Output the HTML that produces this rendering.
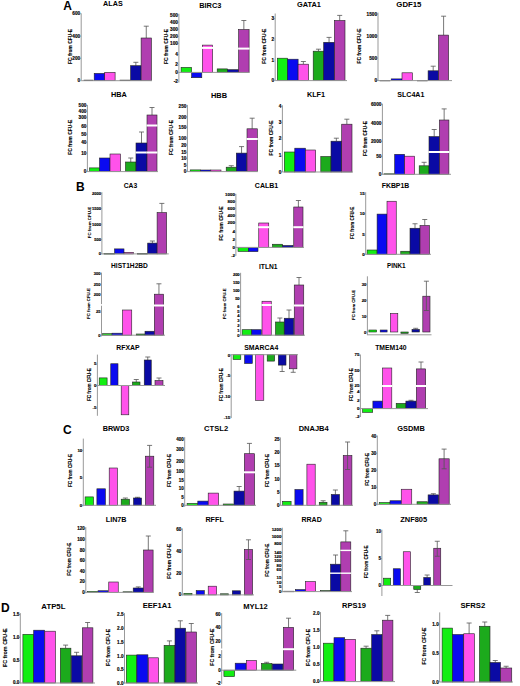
<!DOCTYPE html><html><head><meta charset="utf-8"><title>Figure</title><style>html,body{margin:0;padding:0;background:#fff;}svg{display:block;}text{font-family:"Liberation Sans",sans-serif;}.t{font-weight:bold;font-size:7.5px;fill:#000;}.k{font-weight:bold;font-size:4.9px;fill:#000;stroke:#000;stroke-width:0.15px;}.y{font-weight:bold;font-size:5px;fill:#000;stroke:#000;stroke-width:0.12px;}.p{font-weight:bold;font-size:12px;fill:#000;}</style></head><body>
<svg width="520" height="686" viewBox="0 0 520 686">
<rect width="520" height="686" fill="#fff"/>
<text class="p" x="63.2" y="10">A</text>
<text class="p" x="76" y="191.2">B</text>
<text class="p" x="63" y="433.5">C</text>
<text class="p" x="0.9" y="611.5">D</text>
<g><text class="t" style="font-size:7.2px" x="112.9" y="6.3" text-anchor="middle">ALAS</text><rect x="84" y="80.1" width="9" height="0.6" fill="#12ee12" stroke="#222" stroke-width="0.6"/><rect x="94.2" y="73.4" width="10.5" height="7.3" fill="#0a0af0" stroke="#222" stroke-width="0.6"/><rect x="104.7" y="72.4" width="10.4" height="8.3" fill="#ff52ea" stroke="#222" stroke-width="0.6"/><rect x="120" y="80.1" width="10" height="0.6" fill="#1caa1c" stroke="#222" stroke-width="0.6"/><path d="M135.85 65.7V62.3M133.35 62.3H138.35" stroke="#555" stroke-width="0.8" fill="none"/><rect x="130.6" y="65.7" width="10.5" height="15" fill="#0a0aa4" stroke="#222" stroke-width="0.6"/><path d="M146.25 38V26.2M143.75 26.2H148.75" stroke="#555" stroke-width="0.8" fill="none"/><rect x="141.1" y="38" width="10.3" height="42.7" fill="#b03eb0" stroke="#222" stroke-width="0.6"/><path d="M81.2 13.4V80.7" stroke="#999" stroke-width="1" fill="none"/><path d="M81.2 80.7H152" stroke="#999" stroke-width="1" fill="none"/><path d="M79.9 13.7H81.2" stroke="#999" stroke-width="0.6"/><text class="k" style="font-size:4.7px" x="80.2" y="15.39" text-anchor="end">600</text><path d="M79.9 36.1H81.2" stroke="#999" stroke-width="0.6"/><text class="k" style="font-size:4.7px" x="80.2" y="37.79" text-anchor="end">400</text><path d="M79.9 58.4H81.2" stroke="#999" stroke-width="0.6"/><text class="k" style="font-size:4.7px" x="80.2" y="60.09" text-anchor="end">200</text><path d="M79.9 80.7H81.2" stroke="#999" stroke-width="0.6"/><text class="k" style="font-size:4.7px" x="80.2" y="82.39" text-anchor="end">0</text><text class="y" style="font-size:4.9px" transform="translate(71.76 46.4) rotate(-90)" text-anchor="middle">FC from CFU-E</text></g>
<g><text class="t" style="font-size:7.4px" x="210.3" y="7.6" text-anchor="middle">BIRC3</text><rect x="181.1" y="67.4" width="10.5" height="5" fill="#12ee12" stroke="#222" stroke-width="0.6"/><rect x="191.6" y="72.4" width="10.2" height="5.3" fill="#0a0af0" stroke="#222" stroke-width="0.6"/><rect x="202.3" y="45.1" width="10.3" height="27.3" fill="#ff52ea" stroke="#222" stroke-width="0.6"/><rect x="201.8" y="46.9" width="11.3" height="2" fill="#fff"/><rect x="217.2" y="68.9" width="10.3" height="3.5" fill="#1caa1c" stroke="#222" stroke-width="0.6"/><rect x="227.5" y="69.7" width="11.1" height="2.7" fill="#0a0aa4" stroke="#222" stroke-width="0.6"/><path d="M243.85 29.5V20.5M241.35 20.5H246.35" stroke="#555" stroke-width="0.8" fill="none"/><rect x="238.6" y="29.5" width="10.5" height="42.9" fill="#b03eb0" stroke="#222" stroke-width="0.6"/><rect x="238.1" y="47.6" width="11.5" height="2" fill="#fff"/><path d="M178.9 13.7V82.5" stroke="#999" stroke-width="1" fill="none"/><path d="M178.9 72.4H249.5" stroke="#999" stroke-width="1" fill="none"/><path d="M177.6 14.9H178.9" stroke="#999" stroke-width="0.6"/><text class="k" style="font-size:4.7px" x="177.9" y="16.59" text-anchor="end">500</text><path d="M177.6 22.3H178.9" stroke="#999" stroke-width="0.6"/><text class="k" style="font-size:4.7px" x="177.9" y="23.99" text-anchor="end">400</text><path d="M177.6 29.3H178.9" stroke="#999" stroke-width="0.6"/><text class="k" style="font-size:4.7px" x="177.9" y="30.99" text-anchor="end">300</text><path d="M177.6 36.5H178.9" stroke="#999" stroke-width="0.6"/><text class="k" style="font-size:4.7px" x="177.9" y="38.19" text-anchor="end">200</text><path d="M177.6 43.5H178.9" stroke="#999" stroke-width="0.6"/><text class="k" style="font-size:4.7px" x="177.9" y="45.19" text-anchor="end">100</text><path d="M177.6 54.6H178.9" stroke="#999" stroke-width="0.6"/><text class="k" style="font-size:4.7px" x="177.9" y="56.29" text-anchor="end">4</text><path d="M177.6 64.5H178.9" stroke="#999" stroke-width="0.6"/><text class="k" style="font-size:4.7px" x="177.9" y="66.19" text-anchor="end">2</text><path d="M177.6 72.4H178.9" stroke="#999" stroke-width="0.6"/><text class="k" style="font-size:4.7px" x="177.9" y="74.09" text-anchor="end">0</text><path d="M177.6 81.4H178.9" stroke="#999" stroke-width="0.6"/><text class="k" style="font-size:4.7px" x="177.9" y="83.09" text-anchor="end">-2</text><text class="y" style="font-size:4.9px" transform="translate(168.26 46.4) rotate(-90)" text-anchor="middle">FC from CFU-E</text></g>
<g><text class="t" style="font-size:7.4px" x="308.9" y="7.3" text-anchor="middle">GATA1</text><rect x="277.3" y="58.2" width="10.2" height="22.4" fill="#12ee12" stroke="#222" stroke-width="0.6"/><rect x="287.5" y="59.2" width="10.6" height="21.4" fill="#0a0af0" stroke="#222" stroke-width="0.6"/><path d="M303.35 64.2V61.5M300.85 61.5H305.85" stroke="#555" stroke-width="0.8" fill="none"/><rect x="298.1" y="64.2" width="10.5" height="16.4" fill="#ff52ea" stroke="#222" stroke-width="0.6"/><path d="M318.45 51.2V49.2M315.95 49.2H320.95" stroke="#555" stroke-width="0.8" fill="none"/><rect x="313.2" y="51.2" width="10.5" height="29.4" fill="#1caa1c" stroke="#222" stroke-width="0.6"/><path d="M329.05 42.3V37.4M326.55 37.4H331.55" stroke="#555" stroke-width="0.8" fill="none"/><rect x="323.7" y="42.3" width="10.7" height="38.3" fill="#0a0aa4" stroke="#222" stroke-width="0.6"/><path d="M339.7 20.5V15.4M337.2 15.4H342.2" stroke="#555" stroke-width="0.8" fill="none"/><rect x="334.4" y="20.5" width="10.6" height="60.1" fill="#b03eb0" stroke="#222" stroke-width="0.6"/><path d="M275.2 13.5V80.6" stroke="#999" stroke-width="1" fill="none"/><path d="M275.2 80.6H347" stroke="#999" stroke-width="1" fill="none"/><path d="M273.9 18.4H275.2" stroke="#999" stroke-width="0.6"/><text class="k" style="font-size:4.7px" x="274.2" y="20.09" text-anchor="end">3</text><path d="M273.9 39.2H275.2" stroke="#999" stroke-width="0.6"/><text class="k" style="font-size:4.7px" x="274.2" y="40.89" text-anchor="end">2</text><path d="M273.9 60.1H275.2" stroke="#999" stroke-width="0.6"/><text class="k" style="font-size:4.7px" x="274.2" y="61.79" text-anchor="end">1</text><path d="M273.9 80.6H275.2" stroke="#999" stroke-width="0.6"/><text class="k" style="font-size:4.7px" x="274.2" y="82.29" text-anchor="end">0</text><text class="y" style="font-size:4.9px" transform="translate(265.76 46.2) rotate(-90)" text-anchor="middle">FC from CFU-E</text></g>
<g><text class="t" style="font-size:7.8px" x="408.9" y="7.3" text-anchor="middle">GDF15</text><rect x="380" y="80.3" width="10" height="0.6" fill="#12ee12" stroke="#222" stroke-width="0.6"/><rect x="391.2" y="78.9" width="10.8" height="1.7" fill="#0a0af0" stroke="#222" stroke-width="0.6"/><rect x="402" y="72.8" width="10.4" height="7.8" fill="#ff52ea" stroke="#222" stroke-width="0.6"/><rect x="417.5" y="80.3" width="10" height="0.6" fill="#1caa1c" stroke="#222" stroke-width="0.6"/><path d="M433.2 70.8V66.2M430.7 66.2H435.7" stroke="#555" stroke-width="0.8" fill="none"/><rect x="428.1" y="70.8" width="10.2" height="9.8" fill="#0a0aa4" stroke="#222" stroke-width="0.6"/><path d="M443.6 35.1V16.2M441.1 16.2H446.1" stroke="#555" stroke-width="0.8" fill="none"/><rect x="438.6" y="35.1" width="10" height="45.5" fill="#b03eb0" stroke="#222" stroke-width="0.6"/><path d="M378 12.6V81" stroke="#999" stroke-width="1" fill="none"/><path d="M378 80.6H452" stroke="#999" stroke-width="1" fill="none"/><path d="M376.7 14.1H378" stroke="#999" stroke-width="0.6"/><text class="k" style="font-size:4.7px" x="377" y="15.79" text-anchor="end">1500</text><path d="M376.7 35.9H378" stroke="#999" stroke-width="0.6"/><text class="k" style="font-size:4.7px" x="377" y="37.59" text-anchor="end">1000</text><path d="M376.7 58H378" stroke="#999" stroke-width="0.6"/><text class="k" style="font-size:4.7px" x="377" y="59.69" text-anchor="end">500</text><path d="M376.7 80.6H378" stroke="#999" stroke-width="0.6"/><text class="k" style="font-size:4.7px" x="377" y="82.29" text-anchor="end">0</text><text class="y" style="font-size:4.9px" transform="translate(360.96 46) rotate(-90)" text-anchor="middle">FC from CFU-E</text></g>
<g><text class="t" style="font-size:7.3px" x="118.9" y="97" text-anchor="middle">HBA</text><rect x="89.6" y="167.9" width="9.9" height="3.7" fill="#12ee12" stroke="#222" stroke-width="0.6"/><rect x="99.5" y="158" width="10.5" height="13.6" fill="#0a0af0" stroke="#222" stroke-width="0.6"/><rect x="110" y="154" width="10.5" height="17.6" fill="#ff52ea" stroke="#222" stroke-width="0.6"/><path d="M130.75 162V158M128.25 158H133.25" stroke="#555" stroke-width="0.8" fill="none"/><rect x="125.5" y="162" width="10.5" height="9.6" fill="#1caa1c" stroke="#222" stroke-width="0.6"/><path d="M141.5 143V132M139 132H144" stroke="#555" stroke-width="0.8" fill="none"/><rect x="136" y="143" width="11" height="28.6" fill="#0a0aa4" stroke="#222" stroke-width="0.6"/><rect x="135.5" y="151.5" width="12" height="2" fill="#fff"/><path d="M152 115V107.5M149.5 107.5H154.5" stroke="#555" stroke-width="0.8" fill="none"/><rect x="147" y="115" width="10" height="56.6" fill="#b03eb0" stroke="#222" stroke-width="0.6"/><rect x="146.5" y="124.5" width="11" height="2" fill="#fff"/><rect x="146.5" y="151.5" width="11" height="2" fill="#fff"/><path d="M87.4 104.9V172" stroke="#999" stroke-width="1" fill="none"/><path d="M87.4 171.6H158" stroke="#999" stroke-width="1" fill="none"/><path d="M86.1 105.5H87.4" stroke="#999" stroke-width="0.6"/><text class="k" style="font-size:4.7px" x="86.4" y="107.19" text-anchor="end">500</text><path d="M86.1 111.3H87.4" stroke="#999" stroke-width="0.6"/><text class="k" style="font-size:4.7px" x="86.4" y="112.99" text-anchor="end">400</text><path d="M86.1 117.7H87.4" stroke="#999" stroke-width="0.6"/><text class="k" style="font-size:4.7px" x="86.4" y="119.39" text-anchor="end">300</text><path d="M86.1 126.3H87.4" stroke="#999" stroke-width="0.6"/><text class="k" style="font-size:4.7px" x="86.4" y="127.99" text-anchor="end">60</text><path d="M86.1 134.4H87.4" stroke="#999" stroke-width="0.6"/><text class="k" style="font-size:4.7px" x="86.4" y="136.09" text-anchor="end">50</text><path d="M86.1 142.6H87.4" stroke="#999" stroke-width="0.6"/><text class="k" style="font-size:4.7px" x="86.4" y="144.29" text-anchor="end">40</text><path d="M86.1 153.1H87.4" stroke="#999" stroke-width="0.6"/><text class="k" style="font-size:4.7px" x="86.4" y="154.79" text-anchor="end">10</text><path d="M86.1 171.6H87.4" stroke="#999" stroke-width="0.6"/><text class="k" style="font-size:4.7px" x="86.4" y="173.29" text-anchor="end">0</text><text class="y" style="font-size:4.9px" transform="translate(72.46 137.3) rotate(-90)" text-anchor="middle">FC from CFU-E</text></g>
<g><text class="t" style="font-size:7.45px" x="219" y="97.6" text-anchor="middle">HBB</text><rect x="190.2" y="169.9" width="10.3" height="1.7" fill="#12ee12" stroke="#222" stroke-width="0.6"/><rect x="200.5" y="170" width="10.3" height="1.6" fill="#0a0af0" stroke="#222" stroke-width="0.6"/><rect x="210.8" y="170" width="10.2" height="1.6" fill="#ff52ea" stroke="#222" stroke-width="0.6"/><path d="M231.25 167.2V165.7M228.75 165.7H233.75" stroke="#555" stroke-width="0.8" fill="none"/><rect x="226.2" y="167.2" width="10.1" height="4.4" fill="#1caa1c" stroke="#222" stroke-width="0.6"/><path d="M241.55 153.1V146.6M239.05 146.6H244.05" stroke="#555" stroke-width="0.8" fill="none"/><rect x="236.3" y="153.1" width="10.5" height="18.5" fill="#0a0aa4" stroke="#222" stroke-width="0.6"/><path d="M252.15 128.8V118.2M249.65 118.2H254.65" stroke="#555" stroke-width="0.8" fill="none"/><rect x="247" y="128.8" width="10.3" height="42.8" fill="#b03eb0" stroke="#222" stroke-width="0.6"/><rect x="246.5" y="138" width="11.3" height="2" fill="#fff"/><path d="M187.4 104.9V172" stroke="#999" stroke-width="1" fill="none"/><path d="M187.4 171.6H258" stroke="#999" stroke-width="1" fill="none"/><path d="M186.1 106.1H187.4" stroke="#999" stroke-width="0.6"/><text class="k" style="font-size:4.7px" x="186.4" y="107.79" text-anchor="end">250</text><path d="M186.1 116.9H187.4" stroke="#999" stroke-width="0.6"/><text class="k" style="font-size:4.7px" x="186.4" y="118.59" text-anchor="end">200</text><path d="M186.1 127.4H187.4" stroke="#999" stroke-width="0.6"/><text class="k" style="font-size:4.7px" x="186.4" y="129.09" text-anchor="end">150</text><path d="M186.1 138.1H187.4" stroke="#999" stroke-width="0.6"/><text class="k" style="font-size:4.7px" x="186.4" y="139.79" text-anchor="end">100</text><path d="M186.1 144.9H187.4" stroke="#999" stroke-width="0.6"/><text class="k" style="font-size:4.7px" x="186.4" y="146.59" text-anchor="end">20</text><path d="M186.1 151.9H187.4" stroke="#999" stroke-width="0.6"/><text class="k" style="font-size:4.7px" x="186.4" y="153.59" text-anchor="end">15</text><path d="M186.1 158.6H187.4" stroke="#999" stroke-width="0.6"/><text class="k" style="font-size:4.7px" x="186.4" y="160.29" text-anchor="end">10</text><path d="M186.1 165H187.4" stroke="#999" stroke-width="0.6"/><text class="k" style="font-size:4.7px" x="186.4" y="166.69" text-anchor="end">5</text><path d="M186.1 171.6H187.4" stroke="#999" stroke-width="0.6"/><text class="k" style="font-size:4.7px" x="186.4" y="173.29" text-anchor="end">0</text><text class="y" style="font-size:4.9px" transform="translate(172.76 137.5) rotate(-90)" text-anchor="middle">FC from CFU-E</text></g>
<g><text class="t" style="font-size:7.3px" x="316" y="97.3" text-anchor="middle">KLF1</text><rect x="284.3" y="152" width="10.5" height="20" fill="#12ee12" stroke="#222" stroke-width="0.6"/><rect x="294.8" y="148.2" width="10.6" height="23.8" fill="#0a0af0" stroke="#222" stroke-width="0.6"/><rect x="305.4" y="150" width="10.3" height="22" fill="#ff52ea" stroke="#222" stroke-width="0.6"/><rect x="320.8" y="156.5" width="10.2" height="15.5" fill="#1caa1c" stroke="#222" stroke-width="0.6"/><path d="M336.35 141.2V138.2M333.85 138.2H338.85" stroke="#555" stroke-width="0.8" fill="none"/><rect x="331" y="141.2" width="10.7" height="30.8" fill="#0a0aa4" stroke="#222" stroke-width="0.6"/><path d="M346.85 124.2V119.2M344.35 119.2H349.35" stroke="#555" stroke-width="0.8" fill="none"/><rect x="341.7" y="124.2" width="10.3" height="47.8" fill="#b03eb0" stroke="#222" stroke-width="0.6"/><path d="M282.4 105.3V172" stroke="#999" stroke-width="1" fill="none"/><path d="M282.4 172H353" stroke="#999" stroke-width="1" fill="none"/><path d="M281.1 106.1H282.4" stroke="#999" stroke-width="0.6"/><text class="k" style="font-size:4.7px" x="281.4" y="107.79" text-anchor="end">4</text><path d="M281.1 122.1H282.4" stroke="#999" stroke-width="0.6"/><text class="k" style="font-size:4.7px" x="281.4" y="123.79" text-anchor="end">3</text><path d="M281.1 138.7H282.4" stroke="#999" stroke-width="0.6"/><text class="k" style="font-size:4.7px" x="281.4" y="140.39" text-anchor="end">2</text><path d="M281.1 155.4H282.4" stroke="#999" stroke-width="0.6"/><text class="k" style="font-size:4.7px" x="281.4" y="157.09" text-anchor="end">1</text><path d="M281.1 172H282.4" stroke="#999" stroke-width="0.6"/><text class="k" style="font-size:4.7px" x="281.4" y="173.69" text-anchor="end">0</text><text class="y" style="font-size:4.9px" transform="translate(273.06 137.9) rotate(-90)" text-anchor="middle">FC from CFU-E</text></g>
<g><text class="t" style="font-size:7.1px" x="410.8" y="97" text-anchor="middle">SLC4A1</text><rect x="384" y="173.8" width="10.5" height="0.6" fill="#12ee12" stroke="#222" stroke-width="0.6"/><rect x="394.7" y="154.3" width="9.9" height="20" fill="#0a0af0" stroke="#222" stroke-width="0.6"/><rect x="404.6" y="156.2" width="10" height="18.1" fill="#ff52ea" stroke="#222" stroke-width="0.6"/><path d="M424.1 165.8V162.3M421.6 162.3H426.6" stroke="#555" stroke-width="0.8" fill="none"/><rect x="419.2" y="165.8" width="9.8" height="8.5" fill="#1caa1c" stroke="#222" stroke-width="0.6"/><path d="M434.2 136.6V129.5M431.7 129.5H436.7" stroke="#555" stroke-width="0.8" fill="none"/><rect x="429" y="136.6" width="10.4" height="37.7" fill="#0a0aa4" stroke="#222" stroke-width="0.6"/><rect x="428.5" y="151" width="11.4" height="2" fill="#fff"/><path d="M444.15 120V108.9M441.65 108.9H446.65" stroke="#555" stroke-width="0.8" fill="none"/><rect x="439.4" y="120" width="9.5" height="54.3" fill="#b03eb0" stroke="#222" stroke-width="0.6"/><rect x="438.9" y="151" width="10.5" height="2" fill="#fff"/><path d="M382.4 103.7V174.8" stroke="#999" stroke-width="1" fill="none"/><path d="M382.4 174.3H451" stroke="#999" stroke-width="1" fill="none"/><path d="M381.1 104.3H382.4" stroke="#999" stroke-width="0.6"/><text class="k" style="font-size:4.7px" x="381.4" y="105.99" text-anchor="end">6000</text><path d="M381.1 123H382.4" stroke="#999" stroke-width="0.6"/><text class="k" style="font-size:4.7px" x="381.4" y="124.69" text-anchor="end">4000</text><path d="M381.1 141.6H382.4" stroke="#999" stroke-width="0.6"/><text class="k" style="font-size:4.7px" x="381.4" y="143.29" text-anchor="end">2000</text><path d="M381.1 156.6H382.4" stroke="#999" stroke-width="0.6"/><text class="k" style="font-size:4.7px" x="381.4" y="158.29" text-anchor="end">50</text><path d="M381.1 174.2H382.4" stroke="#999" stroke-width="0.6"/><text class="k" style="font-size:4.7px" x="381.4" y="175.89" text-anchor="end">0</text><text class="y" style="font-size:4.9px" transform="translate(367.36 138.4) rotate(-90)" text-anchor="middle">FC from CFU-E</text></g>
<g><text class="t" style="font-size:6.75px" x="130.4" y="187.6" text-anchor="middle">CA3</text><rect x="104" y="253.5" width="10.4" height="0.6" fill="#12ee12" stroke="#222" stroke-width="0.6"/><rect x="114.6" y="248.9" width="9.4" height="5" fill="#0a0af0" stroke="#222" stroke-width="0.6"/><rect x="124" y="252.3" width="9.5" height="1.6" fill="#ff52ea" stroke="#222" stroke-width="0.6"/><rect x="137.5" y="253.5" width="10" height="0.6" fill="#1caa1c" stroke="#222" stroke-width="0.6"/><path d="M152.4 243.1V241M149.9 241H154.9" stroke="#555" stroke-width="0.8" fill="none"/><rect x="147.7" y="243.1" width="9.4" height="10.8" fill="#0a0aa4" stroke="#222" stroke-width="0.6"/><path d="M161.85 212.6V203.4M159.35 203.4H164.35" stroke="#555" stroke-width="0.8" fill="none"/><rect x="157.1" y="212.6" width="9.5" height="41.3" fill="#b03eb0" stroke="#222" stroke-width="0.6"/><path d="M101.9 192.2V254.4" stroke="#999" stroke-width="1" fill="none"/><path d="M101.9 253.9H168.75" stroke="#999" stroke-width="1" fill="none"/><path d="M100.6 193.4H101.9" stroke="#999" stroke-width="0.6"/><text class="k" style="font-size:4px" x="100.9" y="194.84" text-anchor="end">2000</text><path d="M100.6 208.6H101.9" stroke="#999" stroke-width="0.6"/><text class="k" style="font-size:4px" x="100.9" y="210.04" text-anchor="end">1500</text><path d="M100.6 224.1H101.9" stroke="#999" stroke-width="0.6"/><text class="k" style="font-size:4px" x="100.9" y="225.54" text-anchor="end">1000</text><path d="M100.6 239.5H101.9" stroke="#999" stroke-width="0.6"/><text class="k" style="font-size:4px" x="100.9" y="240.94" text-anchor="end">500</text><path d="M100.6 253.9H101.9" stroke="#999" stroke-width="0.6"/><text class="k" style="font-size:4px" x="100.9" y="255.34" text-anchor="end">0</text><text class="y" style="font-size:4.4px" transform="translate(90.58 222.5) rotate(-90)" text-anchor="middle">FC from CFU-E</text></g>
<g><text class="t" style="font-size:7px" x="266.5" y="187.6" text-anchor="middle">CALB1</text><rect x="238" y="247.4" width="10.3" height="4" fill="#12ee12" stroke="#222" stroke-width="0.6"/><rect x="248.3" y="247.4" width="9.7" height="4.2" fill="#0a0af0" stroke="#222" stroke-width="0.6"/><rect x="258.75" y="223" width="10" height="24.4" fill="#ff52ea" stroke="#222" stroke-width="0.6"/><rect x="258.25" y="226.2" width="11" height="2" fill="#fff"/><rect x="272.5" y="244.25" width="10" height="3.15" fill="#1caa1c" stroke="#222" stroke-width="0.6"/><rect x="282.5" y="245.5" width="10.5" height="1.9" fill="#0a0aa4" stroke="#222" stroke-width="0.6"/><path d="M298.38 207V200.5M295.88 200.5H300.88" stroke="#555" stroke-width="0.8" fill="none"/><rect x="293.75" y="207" width="9.25" height="40.4" fill="#b03eb0" stroke="#222" stroke-width="0.6"/><rect x="293.25" y="226.2" width="10.25" height="2" fill="#fff"/><path d="M235.9 193.8V255.8" stroke="#999" stroke-width="1" fill="none"/><path d="M235.9 247.4H304" stroke="#999" stroke-width="1" fill="none"/><path d="M234.6 194.6H235.9" stroke="#999" stroke-width="0.6"/><text class="k" style="font-size:4.4px" x="234.9" y="196.18" text-anchor="end">1000</text><path d="M234.6 201.6H235.9" stroke="#999" stroke-width="0.6"/><text class="k" style="font-size:4.4px" x="234.9" y="203.18" text-anchor="end">800</text><path d="M234.6 208.3H235.9" stroke="#999" stroke-width="0.6"/><text class="k" style="font-size:4.4px" x="234.9" y="209.88" text-anchor="end">600</text><path d="M234.6 215.3H235.9" stroke="#999" stroke-width="0.6"/><text class="k" style="font-size:4.4px" x="234.9" y="216.88" text-anchor="end">400</text><path d="M234.6 222.6H235.9" stroke="#999" stroke-width="0.6"/><text class="k" style="font-size:4.4px" x="234.9" y="224.18" text-anchor="end">200</text><path d="M234.6 231.3H235.9" stroke="#999" stroke-width="0.6"/><text class="k" style="font-size:4.4px" x="234.9" y="232.88" text-anchor="end">4</text><path d="M234.6 239.5H235.9" stroke="#999" stroke-width="0.6"/><text class="k" style="font-size:4.4px" x="234.9" y="241.08" text-anchor="end">2</text><path d="M234.6 247.4H235.9" stroke="#999" stroke-width="0.6"/><text class="k" style="font-size:4.4px" x="234.9" y="248.98" text-anchor="end">0</text><path d="M234.6 255.2H235.9" stroke="#999" stroke-width="0.6"/><text class="k" style="font-size:4.4px" x="234.9" y="256.78" text-anchor="end">-2</text><text class="y" style="font-size:4.8px" transform="translate(222.93 223.4) rotate(-90)" text-anchor="middle">FC from CFU-E</text></g>
<g><text class="t" style="font-size:6.9px" x="395.5" y="187.6" text-anchor="middle">FKBP1B</text><rect x="367.1" y="250" width="10" height="4.3" fill="#12ee12" stroke="#222" stroke-width="0.6"/><rect x="377.1" y="214.1" width="9.9" height="40.2" fill="#0a0af0" stroke="#222" stroke-width="0.6"/><rect x="387" y="201.25" width="9.25" height="53.05" fill="#ff52ea" stroke="#222" stroke-width="0.6"/><rect x="400.75" y="251.25" width="9.25" height="3.05" fill="#1caa1c" stroke="#222" stroke-width="0.6"/><path d="M415 228.25V223.75M412.5 223.75H417.5" stroke="#555" stroke-width="0.8" fill="none"/><rect x="410" y="228.25" width="10" height="26.05" fill="#0a0aa4" stroke="#222" stroke-width="0.6"/><path d="M424.75 225.5V219.5M422.25 219.5H427.25" stroke="#555" stroke-width="0.8" fill="none"/><rect x="420" y="225.5" width="9.5" height="28.8" fill="#b03eb0" stroke="#222" stroke-width="0.6"/><path d="M365.7 192.2V254.6" stroke="#999" stroke-width="1" fill="none"/><path d="M365.7 254.3H431" stroke="#999" stroke-width="1" fill="none"/><path d="M364.4 193.4H365.7" stroke="#999" stroke-width="0.6"/><text class="k" style="font-size:4.4px" x="364.7" y="194.98" text-anchor="end">15</text><path d="M364.4 213.8H365.7" stroke="#999" stroke-width="0.6"/><text class="k" style="font-size:4.4px" x="364.7" y="215.38" text-anchor="end">10</text><path d="M364.4 234.2H365.7" stroke="#999" stroke-width="0.6"/><text class="k" style="font-size:4.4px" x="364.7" y="235.78" text-anchor="end">5</text><path d="M364.4 254.3H365.7" stroke="#999" stroke-width="0.6"/><text class="k" style="font-size:4.4px" x="364.7" y="255.88" text-anchor="end">0</text><text class="y" style="font-size:4.5px" transform="translate(354.12 222.8) rotate(-90)" text-anchor="middle">FC from CFU-E</text></g>
<g><text class="t" style="font-size:6.64px" x="129.5" y="268.1" text-anchor="middle">HIST1H2BD</text><rect x="102.5" y="333.7" width="9.5" height="1.5" fill="#12ee12" stroke="#222" stroke-width="0.6"/><rect x="112" y="333.2" width="10.5" height="2" fill="#0a0af0" stroke="#222" stroke-width="0.6"/><rect x="122.5" y="310" width="9.25" height="25.2" fill="#ff52ea" stroke="#222" stroke-width="0.6"/><rect x="136.25" y="334" width="8.75" height="1.2" fill="#1caa1c" stroke="#222" stroke-width="0.6"/><rect x="145" y="331.25" width="9.5" height="3.95" fill="#0a0aa4" stroke="#222" stroke-width="0.6"/><path d="M158.95 294.2V283.8M156.45 283.8H161.45" stroke="#555" stroke-width="0.8" fill="none"/><rect x="154.3" y="294.2" width="9.3" height="41" fill="#b03eb0" stroke="#222" stroke-width="0.6"/><rect x="153.8" y="304.5" width="10.3" height="2" fill="#fff"/><path d="M101.5 272.6V336.4" stroke="#999" stroke-width="1" fill="none"/><path d="M101.5 335.2H165" stroke="#999" stroke-width="1" fill="none"/><rect x="100" y="304.1" width="3" height="1.6" fill="#fff"/><path d="M100.2 273.8H101.5" stroke="#999" stroke-width="0.6"/><text class="k" style="font-size:4px" x="100.5" y="275.24" text-anchor="end">300</text><path d="M100.2 284.3H101.5" stroke="#999" stroke-width="0.6"/><text class="k" style="font-size:4px" x="100.5" y="285.74" text-anchor="end">250</text><path d="M100.2 294.1H101.5" stroke="#999" stroke-width="0.6"/><text class="k" style="font-size:4px" x="100.5" y="295.54" text-anchor="end">200</text><path d="M100.2 311.3H101.5" stroke="#999" stroke-width="0.6"/><text class="k" style="font-size:4px" x="100.5" y="312.74" text-anchor="end">25</text><path d="M100.2 335.2H101.5" stroke="#999" stroke-width="0.6"/><text class="k" style="font-size:4px" x="100.5" y="336.64" text-anchor="end">0</text><text class="y" style="font-size:4.3px" transform="translate(90.45 303.5) rotate(-90)" text-anchor="middle">FC from CFU-E</text></g>
<g><text class="t" style="font-size:6.7px" x="268.3" y="268.8" text-anchor="middle">ITLN1</text><rect x="242.1" y="329.7" width="9.65" height="5.5" fill="#12ee12" stroke="#222" stroke-width="0.6"/><rect x="251.75" y="329.7" width="9.5" height="5.5" fill="#0a0af0" stroke="#222" stroke-width="0.6"/><rect x="262" y="301.25" width="9.25" height="33.95" fill="#ff52ea" stroke="#222" stroke-width="0.6"/><rect x="261.5" y="304" width="10.25" height="2" fill="#fff"/><path d="M279.88 322V318M277.38 318H282.38" stroke="#555" stroke-width="0.8" fill="none"/><rect x="275.5" y="322" width="8.75" height="13.2" fill="#1caa1c" stroke="#222" stroke-width="0.6"/><path d="M289 318.25V310M286.5 310H291.5" stroke="#555" stroke-width="0.8" fill="none"/><rect x="284.25" y="318.25" width="9.5" height="16.95" fill="#0a0aa4" stroke="#222" stroke-width="0.6"/><path d="M299 285V277.5M296.5 277.5H301.5" stroke="#555" stroke-width="0.8" fill="none"/><rect x="294.25" y="285" width="9.5" height="50.2" fill="#b03eb0" stroke="#222" stroke-width="0.6"/><rect x="293.75" y="304.5" width="10.5" height="2" fill="#fff"/><path d="M240.6 272.8V335.8" stroke="#999" stroke-width="1" fill="none"/><path d="M240.6 335.2H305" stroke="#999" stroke-width="1" fill="none"/><path d="M239.3 274.6H240.6" stroke="#999" stroke-width="0.6"/><text class="k" style="font-size:4px" x="239.6" y="276.04" text-anchor="end">200</text><path d="M239.3 282.4H240.6" stroke="#999" stroke-width="0.6"/><text class="k" style="font-size:4px" x="239.6" y="283.84" text-anchor="end">150</text><path d="M239.3 290.6H240.6" stroke="#999" stroke-width="0.6"/><text class="k" style="font-size:4px" x="239.6" y="292.04" text-anchor="end">100</text><path d="M239.3 298.5H240.6" stroke="#999" stroke-width="0.6"/><text class="k" style="font-size:4px" x="239.6" y="299.94" text-anchor="end">50</text><path d="M239.3 306.6H240.6" stroke="#999" stroke-width="0.6"/><text class="k" style="font-size:4px" x="239.6" y="308.04" text-anchor="end">6</text><path d="M239.3 311.1H240.6" stroke="#999" stroke-width="0.6"/><text class="k" style="font-size:4px" x="239.6" y="312.54" text-anchor="end">5</text><path d="M239.3 316H240.6" stroke="#999" stroke-width="0.6"/><text class="k" style="font-size:4px" x="239.6" y="317.44" text-anchor="end">4</text><path d="M239.3 320.6H240.6" stroke="#999" stroke-width="0.6"/><text class="k" style="font-size:4px" x="239.6" y="322.04" text-anchor="end">3</text><path d="M239.3 325.5H240.6" stroke="#999" stroke-width="0.6"/><text class="k" style="font-size:4px" x="239.6" y="326.94" text-anchor="end">2</text><path d="M239.3 330.2H240.6" stroke="#999" stroke-width="0.6"/><text class="k" style="font-size:4px" x="239.6" y="331.64" text-anchor="end">1</text><path d="M239.3 335.2H240.6" stroke="#999" stroke-width="0.6"/><text class="k" style="font-size:4px" x="239.6" y="336.64" text-anchor="end">0</text><text class="y" style="font-size:4.3px" transform="translate(226.35 303.8) rotate(-90)" text-anchor="middle">FC from CFU-E</text></g>
<g><text class="t" style="font-size:6.35px" x="396.3" y="268.4" text-anchor="middle">PINK1</text><rect x="368.9" y="330" width="7.7" height="2" fill="#12ee12" stroke="#222" stroke-width="0.6"/><rect x="380.2" y="330" width="6.9" height="2" fill="#0a0af0" stroke="#222" stroke-width="0.6"/><rect x="390.5" y="313.5" width="7.3" height="18.5" fill="#ff52ea" stroke="#222" stroke-width="0.6"/><rect x="400.9" y="332" width="7.3" height="1.3" fill="#1caa1c" stroke="#222" stroke-width="0.6"/><path d="M415.7 329.4V328.3M413.2 328.3H418.2" stroke="#555" stroke-width="0.8" fill="none"/><rect x="412" y="329.4" width="7.4" height="2.6" fill="#0a0aa4" stroke="#222" stroke-width="0.6"/><path d="M426.4 310.5V281.2M423.9 281.2H428.9" stroke="#555" stroke-width="0.8" fill="none"/><rect x="422.8" y="296.2" width="7.2" height="35.8" fill="#b03eb0" stroke="#222" stroke-width="0.6"/><path d="M426.4 296.2V310.5M423.9 310.5H428.9" stroke="#555" stroke-width="0.8" fill="none"/><path d="M367.4 276.3V335.2" stroke="#999" stroke-width="1" fill="none"/><path d="M367.4 334.8H431.5" stroke="#999" stroke-width="1" fill="none"/><path d="M366.1 284.2H367.4" stroke="#999" stroke-width="0.6"/><text class="k" style="font-size:4.2px" x="366.4" y="285.71" text-anchor="end">30</text><path d="M366.1 300.2H367.4" stroke="#999" stroke-width="0.6"/><text class="k" style="font-size:4.2px" x="366.4" y="301.71" text-anchor="end">20</text><path d="M366.1 316.3H367.4" stroke="#999" stroke-width="0.6"/><text class="k" style="font-size:4.2px" x="366.4" y="317.81" text-anchor="end">10</text><path d="M366.1 332H367.4" stroke="#999" stroke-width="0.6"/><text class="k" style="font-size:4.2px" x="366.4" y="333.51" text-anchor="end">0</text><text class="y" style="font-size:4.2px" transform="translate(354.91 304.9) rotate(-90)" text-anchor="middle">FC from CFU-E</text></g>
<g><text class="t" style="font-size:6.9px" x="128" y="349.5" text-anchor="middle">RFXAP</text><rect x="99.2" y="377.9" width="7.9" height="7.6" fill="#12ee12" stroke="#222" stroke-width="0.6"/><rect x="110.75" y="363.75" width="7.25" height="21.75" fill="#0a0af0" stroke="#222" stroke-width="0.6"/><rect x="121.2" y="385.5" width="7.6" height="29.3" fill="#ff52ea" stroke="#222" stroke-width="0.6"/><path d="M136.25 382V379.5M133.75 379.5H138.75" stroke="#555" stroke-width="0.8" fill="none"/><rect x="132.5" y="382" width="7.5" height="3.5" fill="#1caa1c" stroke="#222" stroke-width="0.6"/><path d="M147.75 360V357M145.25 357H150.25" stroke="#555" stroke-width="0.8" fill="none"/><rect x="144.25" y="360" width="7" height="25.5" fill="#0a0aa4" stroke="#222" stroke-width="0.6"/><path d="M159 380.5V378M156.5 378H161.5" stroke="#555" stroke-width="0.8" fill="none"/><rect x="155" y="380.5" width="8" height="5" fill="#b03eb0" stroke="#222" stroke-width="0.6"/><path d="M97.4 354.6V415.8" stroke="#999" stroke-width="1" fill="none"/><path d="M97.4 385.5H165" stroke="#999" stroke-width="1" fill="none"/><path d="M96.1 363.9H97.4" stroke="#999" stroke-width="0.6"/><text class="k" style="font-size:4.4px" x="96.4" y="365.48" text-anchor="end">5</text><path d="M96.1 385.5H97.4" stroke="#999" stroke-width="0.6"/><text class="k" style="font-size:4.4px" x="96.4" y="387.08" text-anchor="end">0</text><path d="M96.1 407.6H97.4" stroke="#999" stroke-width="0.6"/><text class="k" style="font-size:4.4px" x="96.4" y="409.18" text-anchor="end">-5</text><text class="y" style="font-size:4.6px" transform="translate(90.86 384.6) rotate(-90)" text-anchor="middle">FC from CFU-E</text></g>
<g><text class="t" style="font-size:6.9px" x="261.3" y="349.6" text-anchor="middle">SMARCA4</text><rect x="233.1" y="354.7" width="7.7" height="4.8" fill="#12ee12" stroke="#222" stroke-width="0.6"/><rect x="244.6" y="354.7" width="7.7" height="8.8" fill="#0a0af0" stroke="#222" stroke-width="0.6"/><rect x="255.7" y="354.7" width="8.1" height="45.6" fill="#ff52ea" stroke="#222" stroke-width="0.6"/><rect x="267.2" y="354.7" width="7.4" height="6.4" fill="#1caa1c" stroke="#222" stroke-width="0.6"/><path d="M282.15 365.1V371.5M279.65 371.5H284.65" stroke="#555" stroke-width="0.8" fill="none"/><rect x="278.3" y="354.7" width="7.7" height="10.4" fill="#0a0aa4" stroke="#222" stroke-width="0.6"/><path d="M293.2 368.8V372.3M290.7 372.3H295.7" stroke="#555" stroke-width="0.8" fill="none"/><rect x="289.5" y="354.7" width="7.4" height="14.1" fill="#b03eb0" stroke="#222" stroke-width="0.6"/><path d="M231.2 354.2V418.1" stroke="#999" stroke-width="1" fill="none"/><path d="M231.2 354.7H298" stroke="#999" stroke-width="1" fill="none"/><path d="M229.9 355H231.2" stroke="#999" stroke-width="0.6"/><text class="k" style="font-size:4.4px" x="230.2" y="356.58" text-anchor="end">0</text><path d="M229.9 375.6H231.2" stroke="#999" stroke-width="0.6"/><text class="k" style="font-size:4.4px" x="230.2" y="377.18" text-anchor="end">-5</text><path d="M229.9 396.6H231.2" stroke="#999" stroke-width="0.6"/><text class="k" style="font-size:4.4px" x="230.2" y="398.18" text-anchor="end">-10</text><path d="M229.9 417H231.2" stroke="#999" stroke-width="0.6"/><text class="k" style="font-size:4.4px" x="230.2" y="418.58" text-anchor="end">-15</text><text class="y" style="font-size:4.6px" transform="translate(222.66 384.6) rotate(-90)" text-anchor="middle">FC from CFU-E</text></g>
<g><text class="t" style="font-size:6.8px" x="390.9" y="349.5" text-anchor="middle">TMEM140</text><rect x="362.6" y="408.4" width="10.1" height="3.9" fill="#12ee12" stroke="#222" stroke-width="0.6"/><rect x="372.9" y="401.1" width="9.7" height="7.5" fill="#0a0af0" stroke="#222" stroke-width="0.6"/><rect x="382.6" y="368" width="9.2" height="40.6" fill="#ff52ea" stroke="#222" stroke-width="0.6"/><rect x="382.1" y="385" width="10.2" height="2" fill="#fff"/><rect x="396.2" y="403.4" width="9.7" height="5.2" fill="#1caa1c" stroke="#222" stroke-width="0.6"/><path d="M411 401.1V400.3M408.5 400.3H413.5" stroke="#555" stroke-width="0.8" fill="none"/><rect x="405.9" y="401.1" width="10.2" height="7.5" fill="#0a0aa4" stroke="#222" stroke-width="0.6"/><path d="M421 368.9V362M418.5 362H423.5" stroke="#555" stroke-width="0.8" fill="none"/><rect x="416.3" y="368.9" width="9.4" height="39.7" fill="#b03eb0" stroke="#222" stroke-width="0.6"/><rect x="415.8" y="385" width="10.4" height="2" fill="#fff"/><path d="M360.4 354.6V417" stroke="#999" stroke-width="1" fill="none"/><path d="M360.4 408.6H428" stroke="#999" stroke-width="1" fill="none"/><path d="M359.1 354.9H360.4" stroke="#999" stroke-width="0.6"/><text class="k" style="font-size:4.4px" x="359.4" y="356.48" text-anchor="end">75</text><path d="M359.1 370.6H360.4" stroke="#999" stroke-width="0.6"/><text class="k" style="font-size:4.4px" x="359.4" y="372.18" text-anchor="end">50</text><path d="M359.1 385.5H360.4" stroke="#999" stroke-width="0.6"/><text class="k" style="font-size:4.4px" x="359.4" y="387.08" text-anchor="end">25</text><path d="M359.1 391.3H360.4" stroke="#999" stroke-width="0.6"/><text class="k" style="font-size:4.4px" x="359.4" y="392.88" text-anchor="end">4</text><path d="M359.1 400.1H360.4" stroke="#999" stroke-width="0.6"/><text class="k" style="font-size:4.4px" x="359.4" y="401.68" text-anchor="end">2</text><path d="M359.1 408.6H360.4" stroke="#999" stroke-width="0.6"/><text class="k" style="font-size:4.4px" x="359.4" y="410.18" text-anchor="end">0</text><path d="M359.1 416.4H360.4" stroke="#999" stroke-width="0.6"/><text class="k" style="font-size:4.4px" x="359.4" y="417.98" text-anchor="end">-2</text><text class="y" style="font-size:4.6px" transform="translate(353.46 384.6) rotate(-90)" text-anchor="middle">FC from CFU-E</text></g>
<g><text class="t" style="font-size:7.3px" x="116" y="430.8" text-anchor="middle">BRWD3</text><rect x="85.1" y="496.9" width="8.4" height="8.4" fill="#12ee12" stroke="#222" stroke-width="0.6"/><rect x="96.9" y="488.8" width="8.5" height="16.5" fill="#0a0af0" stroke="#222" stroke-width="0.6"/><rect x="109.2" y="468" width="8.2" height="37.3" fill="#ff52ea" stroke="#222" stroke-width="0.6"/><path d="M125.35 499.2V498M122.85 498H127.85" stroke="#555" stroke-width="0.8" fill="none"/><rect x="121.2" y="499.2" width="8.3" height="6.1" fill="#1caa1c" stroke="#222" stroke-width="0.6"/><path d="M137.5 498V497.3M135 497.3H140" stroke="#555" stroke-width="0.8" fill="none"/><rect x="133.5" y="498" width="8" height="7.3" fill="#0a0aa4" stroke="#222" stroke-width="0.6"/><path d="M149.6 467.2V445.4M147.1 445.4H152.1" stroke="#555" stroke-width="0.8" fill="none"/><rect x="145.4" y="456.2" width="8.4" height="49.1" fill="#b03eb0" stroke="#222" stroke-width="0.6"/><path d="M149.6 456.2V467.2M147.1 467.2H152.1" stroke="#555" stroke-width="0.8" fill="none"/><path d="M83.3 438.6V506.2" stroke="#999" stroke-width="1" fill="none"/><path d="M83.3 505.3H156" stroke="#999" stroke-width="1" fill="none"/><path d="M82 450.4H83.3" stroke="#999" stroke-width="0.6"/><text class="k" style="font-size:4.4px" x="82.3" y="451.98" text-anchor="end">10</text><path d="M82 477.7H83.3" stroke="#999" stroke-width="0.6"/><text class="k" style="font-size:4.4px" x="82.3" y="479.28" text-anchor="end">5</text><path d="M82 505.3H83.3" stroke="#999" stroke-width="0.6"/><text class="k" style="font-size:4.4px" x="82.3" y="506.88" text-anchor="end">0</text><text class="y" style="font-size:4.6px" transform="translate(72.16 470.5) rotate(-90)" text-anchor="middle">FC from CFU-E</text></g>
<g><text class="t" style="font-size:7.6px" x="216.1" y="430.8" text-anchor="middle">CTSL2</text><rect x="187.1" y="503.4" width="10.5" height="1.9" fill="#12ee12" stroke="#222" stroke-width="0.6"/><rect x="197.8" y="501.1" width="10.4" height="4.2" fill="#0a0af0" stroke="#222" stroke-width="0.6"/><rect x="208.2" y="493.1" width="10.4" height="12.2" fill="#ff52ea" stroke="#222" stroke-width="0.6"/><rect x="223.2" y="504" width="10.4" height="1.3" fill="#1caa1c" stroke="#222" stroke-width="0.6"/><path d="M239.15 491.1V486.5M236.65 486.5H241.65" stroke="#555" stroke-width="0.8" fill="none"/><rect x="234" y="491.1" width="10.3" height="14.2" fill="#0a0aa4" stroke="#222" stroke-width="0.6"/><path d="M249.45 453.7V443.4M246.95 443.4H251.95" stroke="#555" stroke-width="0.8" fill="none"/><rect x="244.3" y="453.7" width="10.3" height="51.6" fill="#b03eb0" stroke="#222" stroke-width="0.6"/><rect x="243.8" y="471.3" width="11.3" height="2" fill="#fff"/><path d="M184.7 437.1V506.8" stroke="#999" stroke-width="1" fill="none"/><path d="M184.7 505.3H256" stroke="#999" stroke-width="1" fill="none"/><path d="M183.4 438.9H184.7" stroke="#999" stroke-width="0.6"/><text class="k" style="font-size:4.5px" x="183.7" y="440.52" text-anchor="end">400</text><path d="M183.4 449.8H184.7" stroke="#999" stroke-width="0.6"/><text class="k" style="font-size:4.5px" x="183.7" y="451.42" text-anchor="end">300</text><path d="M183.4 460.9H184.7" stroke="#999" stroke-width="0.6"/><text class="k" style="font-size:4.5px" x="183.7" y="462.52" text-anchor="end">200</text><path d="M183.4 471.5H184.7" stroke="#999" stroke-width="0.6"/><text class="k" style="font-size:4.5px" x="183.7" y="473.12" text-anchor="end">100</text><path d="M183.4 480.8H184.7" stroke="#999" stroke-width="0.6"/><text class="k" style="font-size:4.5px" x="183.7" y="482.42" text-anchor="end">15</text><path d="M183.4 488.8H184.7" stroke="#999" stroke-width="0.6"/><text class="k" style="font-size:4.5px" x="183.7" y="490.42" text-anchor="end">10</text><path d="M183.4 497.1H184.7" stroke="#999" stroke-width="0.6"/><text class="k" style="font-size:4.5px" x="183.7" y="498.72" text-anchor="end">5</text><path d="M183.4 505.3H184.7" stroke="#999" stroke-width="0.6"/><text class="k" style="font-size:4.5px" x="183.7" y="506.92" text-anchor="end">0</text><text class="y" style="font-size:4.6px" transform="translate(171.36 470.5) rotate(-90)" text-anchor="middle">FC from CFU-E</text></g>
<g><text class="t" style="font-size:7.5px" x="313.7" y="430.8" text-anchor="middle">DNAJB4</text><rect x="282.6" y="501.3" width="8.5" height="4" fill="#12ee12" stroke="#222" stroke-width="0.6"/><rect x="294.9" y="489.5" width="8.2" height="15.8" fill="#0a0af0" stroke="#222" stroke-width="0.6"/><rect x="306.9" y="464.2" width="8.3" height="41.1" fill="#ff52ea" stroke="#222" stroke-width="0.6"/><path d="M323.12 502.3V500.75M320.62 500.75H325.62" stroke="#555" stroke-width="0.8" fill="none"/><rect x="319.25" y="502.3" width="7.75" height="3" fill="#1caa1c" stroke="#222" stroke-width="0.6"/><path d="M335.38 494.5V490M332.88 490H337.88" stroke="#555" stroke-width="0.8" fill="none"/><rect x="331.25" y="494.5" width="8.25" height="10.8" fill="#0a0aa4" stroke="#222" stroke-width="0.6"/><path d="M347.57 469.5V442M345.07 442H350.07" stroke="#555" stroke-width="0.8" fill="none"/><rect x="343.25" y="455.5" width="8.65" height="49.8" fill="#b03eb0" stroke="#222" stroke-width="0.6"/><path d="M347.57 455.5V469.5M345.07 469.5H350.07" stroke="#555" stroke-width="0.8" fill="none"/><path d="M280.4 437.4V505.5" stroke="#999" stroke-width="1" fill="none"/><path d="M280.4 505.3H353" stroke="#999" stroke-width="1" fill="none"/><path d="M279.1 439.3H280.4" stroke="#999" stroke-width="0.6"/><text class="k" style="font-size:4.5px" x="279.4" y="440.92" text-anchor="end">25</text><path d="M279.1 452.3H280.4" stroke="#999" stroke-width="0.6"/><text class="k" style="font-size:4.5px" x="279.4" y="453.92" text-anchor="end">20</text><path d="M279.1 465.6H280.4" stroke="#999" stroke-width="0.6"/><text class="k" style="font-size:4.5px" x="279.4" y="467.22" text-anchor="end">15</text><path d="M279.1 478.9H280.4" stroke="#999" stroke-width="0.6"/><text class="k" style="font-size:4.5px" x="279.4" y="480.52" text-anchor="end">10</text><path d="M279.1 492.2H280.4" stroke="#999" stroke-width="0.6"/><text class="k" style="font-size:4.5px" x="279.4" y="493.82" text-anchor="end">5</text><path d="M279.1 505.3H280.4" stroke="#999" stroke-width="0.6"/><text class="k" style="font-size:4.5px" x="279.4" y="506.92" text-anchor="end">0</text><text class="y" style="font-size:4.6px" transform="translate(269.26 470.5) rotate(-90)" text-anchor="middle">FC from CFU-E</text></g>
<g><text class="t" style="font-size:7.4px" x="411" y="430.8" text-anchor="middle">GSDMB</text><rect x="379.25" y="502.5" width="10.75" height="1.8" fill="#12ee12" stroke="#222" stroke-width="0.6"/><rect x="390" y="500.75" width="11.25" height="3.55" fill="#0a0af0" stroke="#222" stroke-width="0.6"/><rect x="401.25" y="489.25" width="10.5" height="15.05" fill="#ff52ea" stroke="#222" stroke-width="0.6"/><rect x="417" y="501.75" width="10.5" height="2.55" fill="#1caa1c" stroke="#222" stroke-width="0.6"/><path d="M433.35 494.9V493.7M430.85 493.7H435.85" stroke="#555" stroke-width="0.8" fill="none"/><rect x="428.1" y="494.9" width="10.5" height="9.4" fill="#0a0aa4" stroke="#222" stroke-width="0.6"/><path d="M444.1 468.8V449.1M441.6 449.1H446.6" stroke="#555" stroke-width="0.8" fill="none"/><rect x="439" y="458.8" width="10.2" height="45.5" fill="#b03eb0" stroke="#222" stroke-width="0.6"/><path d="M444.1 458.8V468.8M441.6 468.8H446.6" stroke="#555" stroke-width="0.8" fill="none"/><path d="M377.3 435.5V505.3" stroke="#999" stroke-width="1" fill="none"/><path d="M377.3 504.3H451" stroke="#999" stroke-width="1" fill="none"/><path d="M376 436.4H377.3" stroke="#999" stroke-width="0.6"/><text class="k" style="font-size:4.5px" x="376.3" y="438.02" text-anchor="end">40</text><path d="M376 453.3H377.3" stroke="#999" stroke-width="0.6"/><text class="k" style="font-size:4.5px" x="376.3" y="454.92" text-anchor="end">30</text><path d="M376 470.2H377.3" stroke="#999" stroke-width="0.6"/><text class="k" style="font-size:4.5px" x="376.3" y="471.82" text-anchor="end">20</text><path d="M376 487.6H377.3" stroke="#999" stroke-width="0.6"/><text class="k" style="font-size:4.5px" x="376.3" y="489.22" text-anchor="end">10</text><path d="M376 504.3H377.3" stroke="#999" stroke-width="0.6"/><text class="k" style="font-size:4.5px" x="376.3" y="505.92" text-anchor="end">0</text><text class="y" style="font-size:4.6px" transform="translate(368.56 469.3) rotate(-90)" text-anchor="middle">FC from CFU-E</text></g>
<g><text class="t" style="font-size:7.2px" x="116.2" y="521.6" text-anchor="middle">LIN7B</text><rect x="87.5" y="591.5" width="10" height="0.9" fill="#12ee12" stroke="#222" stroke-width="0.6"/><rect x="98" y="590.75" width="10" height="1.65" fill="#0a0af0" stroke="#222" stroke-width="0.6"/><rect x="108.75" y="582" width="9.5" height="10.4" fill="#ff52ea" stroke="#222" stroke-width="0.6"/><rect x="123" y="591.8" width="9.5" height="0.6" fill="#1caa1c" stroke="#222" stroke-width="0.6"/><path d="M138.25 588V586.9M135.75 586.9H140.75" stroke="#555" stroke-width="0.8" fill="none"/><rect x="133.2" y="588" width="10.1" height="4.4" fill="#0a0aa4" stroke="#222" stroke-width="0.6"/><path d="M148.3 550V536M145.8 536H150.8" stroke="#555" stroke-width="0.8" fill="none"/><rect x="143.5" y="550" width="9.6" height="42.4" fill="#b03eb0" stroke="#222" stroke-width="0.6"/><path d="M85.8 527.1V593.3" stroke="#999" stroke-width="1" fill="none"/><path d="M85.8 592.4H153.75" stroke="#999" stroke-width="1" fill="none"/><path d="M84.5 528.6H85.8" stroke="#999" stroke-width="0.6"/><text class="k" style="font-size:4.6px" x="84.8" y="530.26" text-anchor="end">120</text><path d="M84.5 539.1H85.8" stroke="#999" stroke-width="0.6"/><text class="k" style="font-size:4.6px" x="84.8" y="540.76" text-anchor="end">100</text><path d="M84.5 550H85.8" stroke="#999" stroke-width="0.6"/><text class="k" style="font-size:4.6px" x="84.8" y="551.66" text-anchor="end">80</text><path d="M84.5 560.5H85.8" stroke="#999" stroke-width="0.6"/><text class="k" style="font-size:4.6px" x="84.8" y="562.16" text-anchor="end">60</text><path d="M84.5 571H85.8" stroke="#999" stroke-width="0.6"/><text class="k" style="font-size:4.6px" x="84.8" y="572.66" text-anchor="end">40</text><path d="M84.5 581.5H85.8" stroke="#999" stroke-width="0.6"/><text class="k" style="font-size:4.6px" x="84.8" y="583.16" text-anchor="end">20</text><path d="M84.5 592.4H85.8" stroke="#999" stroke-width="0.6"/><text class="k" style="font-size:4.6px" x="84.8" y="594.06" text-anchor="end">0</text><text class="y" style="font-size:4.6px" transform="translate(71.16 559.2) rotate(-90)" text-anchor="middle">FC from CFU-E</text></g>
<g><text class="t" style="font-size:7.2px" x="214.6" y="522" text-anchor="middle">RFFL</text><rect x="183.9" y="593.4" width="8.1" height="1.5" fill="#12ee12" stroke="#222" stroke-width="0.6"/><rect x="196.2" y="590.6" width="8.1" height="4.3" fill="#0a0af0" stroke="#222" stroke-width="0.6"/><rect x="208.2" y="586.2" width="8.4" height="8.7" fill="#ff52ea" stroke="#222" stroke-width="0.6"/><rect x="220.5" y="593.8" width="8" height="1.1" fill="#1caa1c" stroke="#222" stroke-width="0.6"/><rect x="232.3" y="590.8" width="8.2" height="4.1" fill="#0a0aa4" stroke="#222" stroke-width="0.6"/><path d="M248.45 559.5V539.8M245.95 539.8H250.95" stroke="#555" stroke-width="0.8" fill="none"/><rect x="244.3" y="549.5" width="8.3" height="45.4" fill="#b03eb0" stroke="#222" stroke-width="0.6"/><path d="M248.45 549.5V559.5M245.95 559.5H250.95" stroke="#555" stroke-width="0.8" fill="none"/><path d="M182.3 528.4V595.6" stroke="#999" stroke-width="1" fill="none"/><path d="M182.3 594.9H254" stroke="#999" stroke-width="1" fill="none"/><path d="M181 529.4H182.3" stroke="#999" stroke-width="0.6"/><text class="k" style="font-size:4.6px" x="181.3" y="531.06" text-anchor="end">60</text><path d="M181 550.9H182.3" stroke="#999" stroke-width="0.6"/><text class="k" style="font-size:4.6px" x="181.3" y="552.56" text-anchor="end">40</text><path d="M181 573H182.3" stroke="#999" stroke-width="0.6"/><text class="k" style="font-size:4.6px" x="181.3" y="574.66" text-anchor="end">20</text><path d="M181 594.8H182.3" stroke="#999" stroke-width="0.6"/><text class="k" style="font-size:4.6px" x="181.3" y="596.46" text-anchor="end">0</text><text class="y" style="font-size:4.9px" transform="translate(170.76 561.2) rotate(-90)" text-anchor="middle">FC from CFU-E</text></g>
<g><text class="t" style="font-size:7px" x="311.6" y="522" text-anchor="middle">RRAD</text><rect x="283.75" y="591.2" width="10" height="0.6" fill="#12ee12" stroke="#222" stroke-width="0.6"/><rect x="295.4" y="589.6" width="10" height="2" fill="#0a0af0" stroke="#222" stroke-width="0.6"/><rect x="305.4" y="581.6" width="10.3" height="10" fill="#ff52ea" stroke="#222" stroke-width="0.6"/><rect x="320.3" y="590.6" width="9.9" height="1" fill="#1caa1c" stroke="#222" stroke-width="0.6"/><path d="M335.55 564.2V555M333.05 555H338.05" stroke="#555" stroke-width="0.8" fill="none"/><rect x="330.5" y="564.2" width="10.1" height="27.4" fill="#0a0aa4" stroke="#222" stroke-width="0.6"/><rect x="330" y="572.5" width="11.1" height="1.4" fill="#fff"/><path d="M345.8 541.9V530.8M343.3 530.8H348.3" stroke="#555" stroke-width="0.8" fill="none"/><rect x="340.8" y="541.9" width="10" height="49.7" fill="#b03eb0" stroke="#222" stroke-width="0.6"/><rect x="340.3" y="549.7" width="11" height="1.4" fill="#fff"/><rect x="340.3" y="572.5" width="11" height="1.4" fill="#fff"/><path d="M282.3 527.7V592.4" stroke="#999" stroke-width="1" fill="none"/><path d="M282.3 591.6H352" stroke="#999" stroke-width="1" fill="none"/><path d="M281 529.4H282.3" stroke="#999" stroke-width="0.6"/><text class="k" style="font-size:4.3px" x="281.3" y="530.95" text-anchor="end">1200</text><path d="M281 536.2H282.3" stroke="#999" stroke-width="0.6"/><text class="k" style="font-size:4.3px" x="281.3" y="537.75" text-anchor="end">1000</text><path d="M281 543.1H282.3" stroke="#999" stroke-width="0.6"/><text class="k" style="font-size:4.3px" x="281.3" y="544.65" text-anchor="end">800</text><path d="M281 552.7H282.3" stroke="#999" stroke-width="0.6"/><text class="k" style="font-size:4.3px" x="281.3" y="554.25" text-anchor="end">140</text><path d="M281 556.6H282.3" stroke="#999" stroke-width="0.6"/><text class="k" style="font-size:4.3px" x="281.3" y="558.15" text-anchor="end">120</text><path d="M281 560.5H282.3" stroke="#999" stroke-width="0.6"/><text class="k" style="font-size:4.3px" x="281.3" y="562.05" text-anchor="end">100</text><path d="M281 565.1H282.3" stroke="#999" stroke-width="0.6"/><text class="k" style="font-size:4.3px" x="281.3" y="566.65" text-anchor="end">80</text><path d="M281 569.7H282.3" stroke="#999" stroke-width="0.6"/><text class="k" style="font-size:4.3px" x="281.3" y="571.25" text-anchor="end">60</text><path d="M281 577.6H282.3" stroke="#999" stroke-width="0.6"/><text class="k" style="font-size:4.3px" x="281.3" y="579.15" text-anchor="end">15</text><path d="M281 582.2H282.3" stroke="#999" stroke-width="0.6"/><text class="k" style="font-size:4.3px" x="281.3" y="583.75" text-anchor="end">10</text><path d="M281 586.8H282.3" stroke="#999" stroke-width="0.6"/><text class="k" style="font-size:4.3px" x="281.3" y="588.35" text-anchor="end">5</text><path d="M281 591.6H282.3" stroke="#999" stroke-width="0.6"/><text class="k" style="font-size:4.3px" x="281.3" y="593.15" text-anchor="end">0</text><text class="y" style="font-size:4.6px" transform="translate(269.16 560.2) rotate(-90)" text-anchor="middle">FC from CFU-E</text></g>
<g><text class="t" style="font-size:7.45px" x="413.7" y="521.6" text-anchor="middle">ZNF805</text><rect x="383.6" y="578.2" width="7.1" height="7.3" fill="#12ee12" stroke="#222" stroke-width="0.6"/><rect x="393.25" y="568.75" width="7.25" height="16.75" fill="#0a0af0" stroke="#222" stroke-width="0.6"/><rect x="403.25" y="551.75" width="7.25" height="33.75" fill="#ff52ea" stroke="#222" stroke-width="0.6"/><path d="M417.25 589.5V592.5M414.75 592.5H419.75" stroke="#555" stroke-width="0.8" fill="none"/><rect x="413.75" y="585.5" width="7" height="4" fill="#1caa1c" stroke="#222" stroke-width="0.6"/><path d="M427.12 577.5V575M424.62 575H429.62" stroke="#555" stroke-width="0.8" fill="none"/><rect x="423.75" y="577.5" width="6.75" height="8" fill="#0a0aa4" stroke="#222" stroke-width="0.6"/><path d="M437.25 556.25V541.25M434.75 541.25H439.75" stroke="#555" stroke-width="0.8" fill="none"/><rect x="433.75" y="548.25" width="7" height="37.25" fill="#b03eb0" stroke="#222" stroke-width="0.6"/><path d="M437.25 548.25V556.25M434.75 556.25H439.75" stroke="#555" stroke-width="0.8" fill="none"/><path d="M381.9 529.7V596" stroke="#999" stroke-width="1" fill="none"/><path d="M381.9 585.5H452.5" stroke="#999" stroke-width="1" fill="none"/><path d="M380.6 531.3H381.9" stroke="#999" stroke-width="0.6"/><text class="k" style="font-size:4.5px" x="380.9" y="532.92" text-anchor="end">10</text><path d="M380.6 558.6H381.9" stroke="#999" stroke-width="0.6"/><text class="k" style="font-size:4.5px" x="380.9" y="560.22" text-anchor="end">5</text><path d="M380.6 585.5H381.9" stroke="#999" stroke-width="0.6"/><text class="k" style="font-size:4.5px" x="380.9" y="587.12" text-anchor="end">0</text><text class="y" style="font-size:4.6px" transform="translate(368.46 561.9) rotate(-90)" text-anchor="middle">FC from CFU-E</text></g>
<g><text class="t" style="font-size:7.8px" x="53.4" y="608.5" text-anchor="middle">ATP5L</text><rect x="22.9" y="634.3" width="10.6" height="48.7" fill="#12ee12" stroke="#222" stroke-width="0.6"/><rect x="33.7" y="630.2" width="10.9" height="52.8" fill="#0a0af0" stroke="#222" stroke-width="0.6"/><rect x="44.8" y="631.2" width="10.6" height="51.8" fill="#ff52ea" stroke="#222" stroke-width="0.6"/><path d="M65.6 648.2V645.1M63.1 645.1H68.1" stroke="#555" stroke-width="0.8" fill="none"/><rect x="60.3" y="648.2" width="10.6" height="34.8" fill="#1caa1c" stroke="#222" stroke-width="0.6"/><path d="M76.6 655.8V652.3M74.1 652.3H79.1" stroke="#555" stroke-width="0.8" fill="none"/><rect x="71.3" y="655.8" width="10.6" height="27.2" fill="#0a0aa4" stroke="#222" stroke-width="0.6"/><path d="M87.6 627.8V622.5M85.1 622.5H90.1" stroke="#555" stroke-width="0.8" fill="none"/><rect x="82.3" y="627.8" width="10.6" height="55.2" fill="#b03eb0" stroke="#222" stroke-width="0.6"/><path d="M20.3 613.1V683.6" stroke="#999" stroke-width="1" fill="none"/><path d="M20.3 683H95" stroke="#999" stroke-width="1" fill="none"/><path d="M19 614.4H20.3" stroke="#999" stroke-width="0.6"/><text class="k" style="font-size:4.6px" x="19.3" y="616.06" text-anchor="end">1.5</text><path d="M19 637.5H20.3" stroke="#999" stroke-width="0.6"/><text class="k" style="font-size:4.6px" x="19.3" y="639.16" text-anchor="end">1.0</text><path d="M19 660.8H20.3" stroke="#999" stroke-width="0.6"/><text class="k" style="font-size:4.6px" x="19.3" y="662.46" text-anchor="end">0.5</text><path d="M19 682.8H20.3" stroke="#999" stroke-width="0.6"/><text class="k" style="font-size:4.6px" x="19.3" y="684.46" text-anchor="end">0.0</text><text class="y" style="font-size:5.4px" transform="translate(7.04 647.7) rotate(-90)" text-anchor="middle">FC from CFU-E</text></g>
<g><text class="t" style="font-size:7.6px" x="157.1" y="608.1" text-anchor="middle">EEF1A1</text><rect x="126.3" y="655.1" width="10.4" height="27.9" fill="#12ee12" stroke="#222" stroke-width="0.6"/><rect x="136.9" y="654.8" width="11" height="28.2" fill="#0a0af0" stroke="#222" stroke-width="0.6"/><rect x="148.3" y="657.8" width="10.3" height="25.2" fill="#ff52ea" stroke="#222" stroke-width="0.6"/><path d="M169.4 645.4V640.9M166.9 640.9H171.9" stroke="#555" stroke-width="0.8" fill="none"/><rect x="164.1" y="645.4" width="10.6" height="37.6" fill="#1caa1c" stroke="#222" stroke-width="0.6"/><path d="M180.3 628.2V620.8M177.8 620.8H182.8" stroke="#555" stroke-width="0.8" fill="none"/><rect x="175" y="628.2" width="10.6" height="54.8" fill="#0a0aa4" stroke="#222" stroke-width="0.6"/><path d="M191.25 632V623.5M188.75 623.5H193.75" stroke="#555" stroke-width="0.8" fill="none"/><rect x="186" y="632" width="10.5" height="51" fill="#b03eb0" stroke="#222" stroke-width="0.6"/><path d="M124.5 613.1V683.6" stroke="#999" stroke-width="1" fill="none"/><path d="M124.5 683H198" stroke="#999" stroke-width="1" fill="none"/><path d="M123.2 614.4H124.5" stroke="#999" stroke-width="0.6"/><text class="k" style="font-size:4.6px" x="123.5" y="616.06" text-anchor="end">2.5</text><path d="M123.2 628.4H124.5" stroke="#999" stroke-width="0.6"/><text class="k" style="font-size:4.6px" x="123.5" y="630.06" text-anchor="end">2.0</text><path d="M123.2 642.2H124.5" stroke="#999" stroke-width="0.6"/><text class="k" style="font-size:4.6px" x="123.5" y="643.86" text-anchor="end">1.5</text><path d="M123.2 656H124.5" stroke="#999" stroke-width="0.6"/><text class="k" style="font-size:4.6px" x="123.5" y="657.66" text-anchor="end">1.0</text><path d="M123.2 669.5H124.5" stroke="#999" stroke-width="0.6"/><text class="k" style="font-size:4.6px" x="123.5" y="671.16" text-anchor="end">0.5</text><path d="M123.2 682.9H124.5" stroke="#999" stroke-width="0.6"/><text class="k" style="font-size:4.6px" x="123.5" y="684.56" text-anchor="end">0.0</text><text class="y" style="font-size:5.2px" transform="translate(109.67 647.4) rotate(-90)" text-anchor="middle">FC from CFU-E</text></g>
<g><text class="t" style="font-size:7.6px" x="255.5" y="608.5" text-anchor="middle">MYL12</text><rect x="223.9" y="670.2" width="10.7" height="6.4" fill="#12ee12" stroke="#222" stroke-width="0.6"/><rect x="235.2" y="663.2" width="10.8" height="7" fill="#0a0af0" stroke="#222" stroke-width="0.6"/><rect x="246.4" y="660.5" width="10.1" height="9.7" fill="#ff52ea" stroke="#222" stroke-width="0.6"/><path d="M266.7 663.5V662.3M264.2 662.3H269.2" stroke="#555" stroke-width="0.8" fill="none"/><rect x="261.5" y="663.5" width="10.4" height="6.7" fill="#1caa1c" stroke="#222" stroke-width="0.6"/><rect x="272.3" y="664" width="10.6" height="6.2" fill="#0a0aa4" stroke="#222" stroke-width="0.6"/><path d="M288.55 627.4V618.2M286.05 618.2H291.05" stroke="#555" stroke-width="0.8" fill="none"/><rect x="283.4" y="627.4" width="10.3" height="42.8" fill="#b03eb0" stroke="#222" stroke-width="0.6"/><rect x="282.9" y="648.2" width="11.3" height="2" fill="#fff"/><path d="M221.7 613.1V683.9" stroke="#999" stroke-width="1" fill="none"/><path d="M221.7 670.2H296.25" stroke="#999" stroke-width="1" fill="none"/><rect x="220.2" y="648.5" width="3" height="1.6" fill="#fff"/><path d="M220.4 614.4H221.7" stroke="#999" stroke-width="0.6"/><text class="k" style="font-size:4.6px" x="220.7" y="616.06" text-anchor="end">60</text><path d="M220.4 627.5H221.7" stroke="#999" stroke-width="0.6"/><text class="k" style="font-size:4.6px" x="220.7" y="629.16" text-anchor="end">40</text><path d="M220.4 641.3H221.7" stroke="#999" stroke-width="0.6"/><text class="k" style="font-size:4.6px" x="220.7" y="642.96" text-anchor="end">20</text><path d="M220.4 656.7H221.7" stroke="#999" stroke-width="0.6"/><text class="k" style="font-size:4.6px" x="220.7" y="658.36" text-anchor="end">2</text><path d="M220.4 670.4H221.7" stroke="#999" stroke-width="0.6"/><text class="k" style="font-size:4.6px" x="220.7" y="672.06" text-anchor="end">0</text><path d="M220.4 682.9H221.7" stroke="#999" stroke-width="0.6"/><text class="k" style="font-size:4.6px" x="220.7" y="684.56" text-anchor="end">-2</text><text class="y" style="font-size:5.2px" transform="translate(213.87 647.1) rotate(-90)" text-anchor="middle">FC from CFU-E</text></g>
<g><text class="t" style="font-size:7.5px" x="354" y="608.1" text-anchor="middle">RPS19</text><rect x="323.3" y="643.2" width="10.3" height="38.4" fill="#12ee12" stroke="#222" stroke-width="0.6"/><rect x="334" y="637.7" width="10.7" height="43.9" fill="#0a0af0" stroke="#222" stroke-width="0.6"/><rect x="345.1" y="639.4" width="10.4" height="42.2" fill="#ff52ea" stroke="#222" stroke-width="0.6"/><path d="M366.1 648.2V646.2M363.6 646.2H368.6" stroke="#555" stroke-width="0.8" fill="none"/><rect x="360.9" y="648.2" width="10.4" height="33.4" fill="#1caa1c" stroke="#222" stroke-width="0.6"/><path d="M376.85 634.6V630.8M374.35 630.8H379.35" stroke="#555" stroke-width="0.8" fill="none"/><rect x="371.7" y="634.6" width="10.3" height="47" fill="#0a0aa4" stroke="#222" stroke-width="0.6"/><path d="M387.7 620.2V615.4M385.2 615.4H390.2" stroke="#555" stroke-width="0.8" fill="none"/><rect x="382.5" y="620.2" width="10.4" height="61.4" fill="#b03eb0" stroke="#222" stroke-width="0.6"/><path d="M320.5 612.1V682" stroke="#999" stroke-width="1" fill="none"/><path d="M320.5 681.6H395" stroke="#999" stroke-width="1" fill="none"/><path d="M319.2 613.1H320.5" stroke="#999" stroke-width="0.6"/><text class="k" style="font-size:4.6px" x="319.5" y="614.76" text-anchor="end">2.0</text><path d="M319.2 630H320.5" stroke="#999" stroke-width="0.6"/><text class="k" style="font-size:4.6px" x="319.5" y="631.66" text-anchor="end">1.5</text><path d="M319.2 647.1H320.5" stroke="#999" stroke-width="0.6"/><text class="k" style="font-size:4.6px" x="319.5" y="648.76" text-anchor="end">1.0</text><path d="M319.2 664.4H320.5" stroke="#999" stroke-width="0.6"/><text class="k" style="font-size:4.6px" x="319.5" y="666.06" text-anchor="end">0.5</text><path d="M319.2 681.6H320.5" stroke="#999" stroke-width="0.6"/><text class="k" style="font-size:4.6px" x="319.5" y="683.26" text-anchor="end">0.0</text><text class="y" style="font-size:5.2px" transform="translate(310.17 647.4) rotate(-90)" text-anchor="middle">FC from CFU-E</text></g>
<g><text class="t" style="font-size:7.7px" x="472.8" y="608.1" text-anchor="middle">SFRS2</text><rect x="442.1" y="628.1" width="10.4" height="53.9" fill="#12ee12" stroke="#222" stroke-width="0.6"/><rect x="452.5" y="634.5" width="11.25" height="47.5" fill="#0a0af0" stroke="#222" stroke-width="0.6"/><path d="M469.12 633.75V623M466.62 623H471.62" stroke="#555" stroke-width="0.8" fill="none"/><rect x="463.75" y="633.75" width="10.75" height="48.25" fill="#ff52ea" stroke="#222" stroke-width="0.6"/><path d="M484.75 626.25V622M482.25 622H487.25" stroke="#555" stroke-width="0.8" fill="none"/><rect x="479.5" y="626.25" width="10.5" height="55.75" fill="#1caa1c" stroke="#222" stroke-width="0.6"/><path d="M495.25 662.5V660.5M492.75 660.5H497.75" stroke="#555" stroke-width="0.8" fill="none"/><rect x="490" y="662.5" width="10.5" height="19.5" fill="#0a0aa4" stroke="#222" stroke-width="0.6"/><path d="M506.12 668V666.25M503.62 666.25H508.62" stroke="#555" stroke-width="0.8" fill="none"/><rect x="500.5" y="668" width="11.25" height="14" fill="#b03eb0" stroke="#222" stroke-width="0.6"/><path d="M439.7 612.4V682" stroke="#999" stroke-width="1" fill="none"/><path d="M439.7 682H513" stroke="#999" stroke-width="1" fill="none"/><path d="M438.4 624.3H439.7" stroke="#999" stroke-width="0.6"/><text class="k" style="font-size:4.6px" x="438.7" y="625.96" text-anchor="end">1.0</text><path d="M438.4 653.1H439.7" stroke="#999" stroke-width="0.6"/><text class="k" style="font-size:4.6px" x="438.7" y="654.76" text-anchor="end">0.5</text><path d="M438.4 682H439.7" stroke="#999" stroke-width="0.6"/><text class="k" style="font-size:4.6px" x="438.7" y="683.66" text-anchor="end">0.0</text><text class="y" style="font-size:5.2px" transform="translate(425.77 646) rotate(-90)" text-anchor="middle">FC from CFU-E</text></g>
</svg></body></html>
